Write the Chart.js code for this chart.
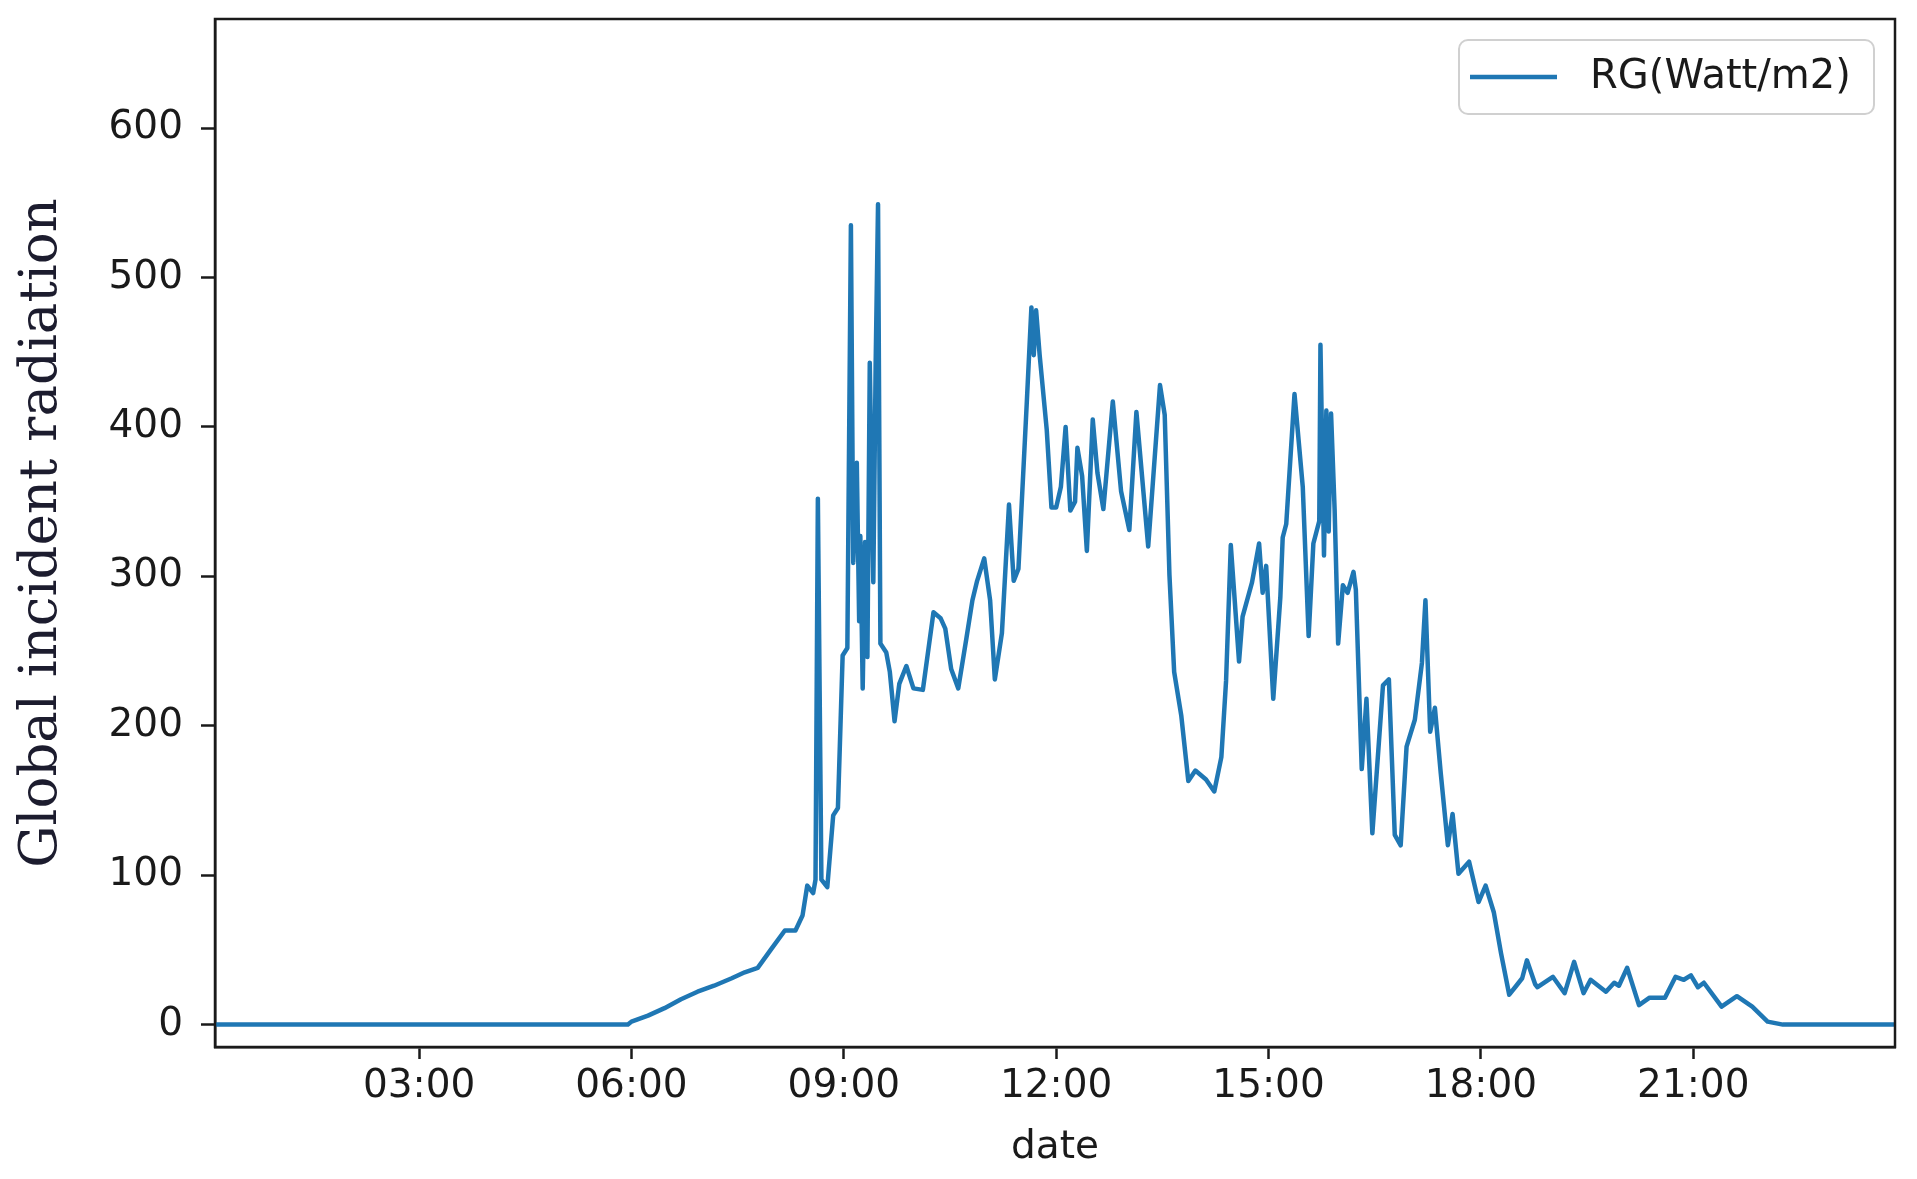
<!DOCTYPE html>
<html>
<head>
<meta charset="utf-8">
<title>RG</title>
<script src="https://cdn.jsdelivr.net/npm/chart.js@4.4.1/dist/chart.umd.min.js"></script>
<style>
  html, body { margin: 0; padding: 0; background: #ffffff; }
  #wrap { width: 1917px; height: 1179px; }
</style>
</head>
<body>
<div id="wrap"><canvas id="rgChart" width="1917" height="1179"></canvas></div>
<script>
// values (time of day, W/m2)
var times = [
    '00:07', '05:57', '06:00', '06:14', '06:28', '06:42', '06:56', '07:10', '07:25', '07:36',
    '07:47', '07:58', '08:10', '08:19', '08:25', '08:29', '08:34', '08:36', '08:38', '08:41',
    '08:46', '08:51', '08:55', '08:59', '09:03', '09:06', '09:08', '09:11', '09:13', '09:14',
    '09:16', '09:18', '09:20', '09:22', '09:25', '09:27', '09:29', '09:31', '09:36', '09:39',
    '09:43', '09:47', '09:53', '09:59', '10:07', '10:16', '10:22', '10:26', '10:31', '10:37',
    '10:44', '10:49', '10:53', '10:59', '11:04', '11:08', '11:14', '11:20', '11:24', '11:28',
    '11:35', '11:39', '11:41', '11:43', '11:46', '11:52', '11:56', '12:00', '12:04', '12:08',
    '12:12', '12:16', '12:18', '12:22', '12:26', '12:31', '12:35', '12:40', '12:48', '12:55',
    '13:02', '13:08', '13:18', '13:28', '13:32', '13:36', '13:40', '13:46', '13:52', '13:58',
    '14:07', '14:14', '14:20', '14:24', '14:28', '14:35', '14:38', '14:46', '14:52', '14:55',
    '14:58', '15:04', '15:10', '15:12', '15:15', '15:22', '15:29', '15:34', '15:38', '15:43',
    '15:44', '15:47', '15:49', '15:51', '15:53', '15:56', '15:59', '16:03', '16:07', '16:12',
    '16:14', '16:19', '16:23', '16:28', '16:37', '16:42', '16:47', '16:52', '16:57', '17:04',
    '17:10', '17:13', '17:17', '17:21', '17:26', '17:32', '17:36', '17:41', '17:50', '17:58',
    '18:04', '18:11', '18:17', '18:24', '18:30', '18:35', '18:39', '18:46', '18:48', '19:01',
    '19:11', '19:19', '19:27', '19:33', '19:46', '19:53', '19:57', '20:04', '20:14', '20:23',
    '20:36', '20:45', '20:52', '20:58', '21:04', '21:09', '21:24', '21:37', '21:50', '22:03',
    '22:16', '23:51'
];
var radiation = [
    0, 0, 2, 6, 11, 17, 22, 26, 31, 35,
    38, 50, 63, 63, 73, 93, 88, 97, 352, 97,
    92, 140, 145, 247, 252, 535, 309, 376, 270, 327,
    225, 323, 246, 443, 296, 443, 549, 255, 249, 236,
    203, 228, 240, 225, 224, 276, 272, 265, 238, 225,
    259, 284, 297, 312, 284, 231, 262, 348, 297, 305,
    415, 480, 448, 478, 448, 398, 346, 346, 360, 400,
    344, 350, 386, 367, 317, 405, 369, 345, 417, 357,
    331, 410, 320, 428, 408, 301, 236, 207, 163, 170,
    164, 156, 179, 230, 321, 243, 273, 296, 322, 289,
    307, 218, 286, 326, 335, 422, 360, 260, 322, 337,
    455, 314, 411, 330, 409, 345, 255, 294, 289, 303,
    291, 171, 218, 128, 227, 231, 127, 120, 186, 204,
    242, 284, 196, 212, 168, 120, 141, 101, 109, 82,
    93, 75, 48, 20, 26, 31, 43, 27, 25, 32,
    21, 42, 21, 30, 22, 28, 26, 38, 13, 18,
    18, 32, 30, 33, 25, 28, 12, 19, 12, 2,
    0, 0
];
var xTickLabels = ['03:00', '06:00', '09:00', '12:00', '15:00', '18:00', '21:00'];
var yTickValues = [0, 100, 200, 300, 400, 500, 600];
var seriesLabel = 'RG(Watt/m2)';

function toHours(t) {
    var p = t.split(':');
    return parseInt(p[0], 10) + parseInt(p[1], 10) / 60;
}
function toClock(h) {
    var hh = Math.floor(h + 1e-6);
    var mm = Math.round((h - hh) * 60);
    return (hh < 10 ? '0' : '') + hh + ':' + (mm < 10 ? '0' : '') + mm;
}

var points = times.map(function (t, i) {
    return { x: toHours(t), y: radiation[i] };
});

var lineBlue = '#1f77b4';
var ink = '#1a1a1a';

// closes the box on top and right like matplotlib spines
var frameBox = {
    id: 'frameBox',
    afterDatasetsDraw: function (chart) {
        var a = chart.chartArea, ctx = chart.ctx;
        ctx.save();
        ctx.strokeStyle = ink;
        ctx.lineWidth = 2.5;
        ctx.strokeRect(a.left, a.top, a.right - a.left, a.bottom - a.top);
        ctx.restore();
    }
};

// legend box in the upper right corner of the plot
var cornerLegend = {
    id: 'cornerLegend',
    afterDraw: function (chart) {
        var a = chart.chartArea, ctx = chart.ctx;
        var ds = chart.data.datasets[0];
        var w = 415, h = 74;
        var x = a.right - 21 - w, y = a.top + 21;
        ctx.save();
        ctx.fillStyle = 'rgba(255,255,255,0.9)';
        ctx.strokeStyle = '#d0d0d0';
        ctx.lineWidth = 2;
        ctx.beginPath();
        ctx.roundRect(x, y, w, h, 9);
        ctx.fill();
        ctx.stroke();
        ctx.strokeStyle = ds.borderColor;
        ctx.lineWidth = 4.5;
        ctx.beginPath();
        ctx.moveTo(x + 11, y + h / 2);
        ctx.lineTo(x + 98, y + h / 2);
        ctx.stroke();
        ctx.fillStyle = ink;
        ctx.font = '40px "DejaVu Sans"';
        ctx.textBaseline = 'middle';
        ctx.fillText(ds.label, x + 131, y + h / 2 + 1);
        ctx.restore();
    }
};

document.addEventListener('DOMContentLoaded', function () {
    var ctx = document.getElementById('rgChart').getContext('2d');
    new Chart(ctx, {
        type: 'line',
        data: {
            datasets: [{
                label: seriesLabel,
                data: points,
                borderColor: lineBlue,
                borderWidth: 4.5,
                borderJoinStyle: 'round',
                borderCapStyle: 'round',
                pointRadius: 0,
                tension: 0,
                fill: false
            }]
        },
        options: {
            responsive: false,
            animation: false,
            devicePixelRatio: 1,
            layout: { padding: { left: 0, right: 22, top: 19, bottom: 0 } },
            plugins: {
                legend: { display: false },
                tooltip: { enabled: false }
            },
            scales: {
                x: {
                    type: 'linear',
                    min: toHours(times[0]),
                    max: toHours(times[times.length - 1]),
                    afterBuildTicks: function (scale) {
                        scale.ticks = xTickLabels.map(function (t) { return { value: toHours(t) }; });
                    },
                    afterFit: function (scale) {
                        scale.height = 132;
                        scale.paddingLeft = 0;
                        scale.paddingRight = 0;
                    },
                    ticks: {
                        autoSkip: false,
                        maxRotation: 0,
                        padding: 4,
                        color: ink,
                        font: { family: 'DejaVu Sans', size: 39 },
                        callback: function (v) { return toClock(v); }
                    },
                    grid: {
                        drawOnChartArea: false,
                        drawTicks: true,
                        tickLength: 12,
                        tickWidth: 2.5,
                        tickColor: ink
                    },
                    border: { display: true, color: ink, width: 2.5 },
                    title: {
                        display: true,
                        text: 'date',
                        color: ink,
                        font: { family: 'DejaVu Sans', size: 39 },
                        padding: { top: 0, bottom: 8 }
                    }
                },
                y: {
                    type: 'linear',
                    min: -15,
                    max: 673,
                    afterBuildTicks: function (scale) {
                        scale.ticks = yTickValues.map(function (v) { return { value: v }; });
                    },
                    afterFit: function (scale) {
                        scale.width = 215;
                        scale.paddingTop = 0;
                        scale.paddingBottom = 0;
                    },
                    ticks: {
                        padding: 18,
                        color: ink,
                        font: { family: 'DejaVu Sans', size: 39 }
                    },
                    grid: {
                        drawOnChartArea: false,
                        drawTicks: true,
                        tickLength: 14,
                        tickWidth: 2.5,
                        tickColor: ink
                    },
                    border: { display: true, color: ink, width: 2.5 },
                    title: {
                        display: true,
                        text: 'Global incident radiation',
                        color: '#1c1c2e',
                        font: { family: 'DejaVu Serif', size: 53 },
                        padding: { top: 10, bottom: 0 }
                    }
                }
            }
        },
        plugins: [frameBox, cornerLegend]
    });
});
</script>
</body>
</html>
